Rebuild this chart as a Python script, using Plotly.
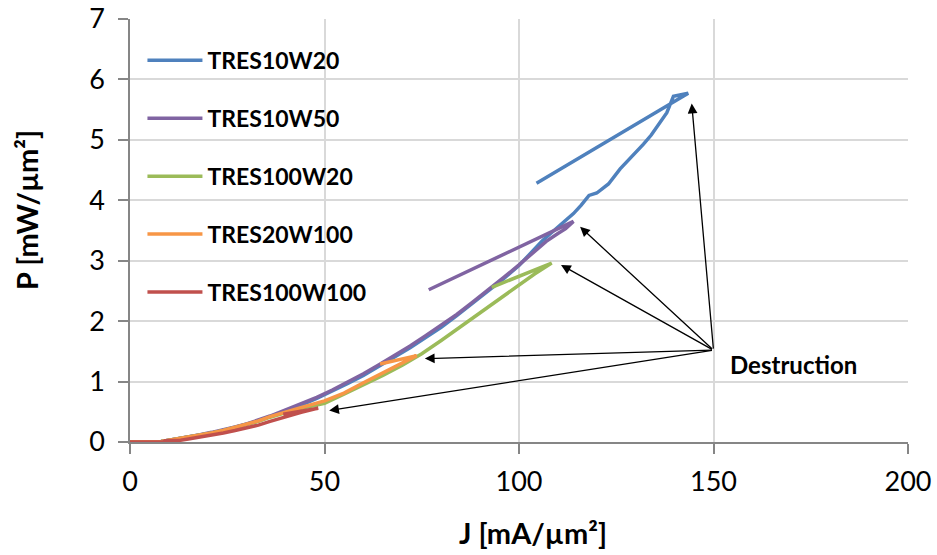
import plotly.graph_objects as go

# ---- data ----
names = ["TRES10W20", "TRES10W50", "TRES100W20", "TRES20W100", "TRES100W100"]
colors = ["#4F81BD", "#8064A2", "#9BBB59", "#F79646", "#C0504D"]

J_tres10w20 = [0, 4, 8, 10, 12, 15, 18, 21, 24, 27, 30, 33, 36, 40, 44, 48, 52, 56, 60, 64, 68, 72, 76, 80,
               84, 88, 92, 96, 100, 103, 106, 109, 112, 114, 116, 118, 120, 123, 126, 129, 132, 134, 136, 138,
               139.7, 143.5, 104.5]
P_tres10w20 = [0, 0.0, 0.01, 0.03, 0.05, 0.08, 0.11, 0.15, 0.19, 0.24, 0.29, 0.35, 0.42, 0.51, 0.61, 0.72, 0.84,
               0.97, 1.10, 1.25, 1.40, 1.56, 1.73, 1.90, 2.09, 2.29, 2.49, 2.70, 2.92, 3.12, 3.33, 3.50, 3.66,
               3.78, 3.92, 4.08, 4.12, 4.27, 4.52, 4.72, 4.93, 5.08, 5.26, 5.45, 5.72, 5.77, 4.28]

J_tres10w50 = [0, 4, 8, 10, 12, 15, 18, 21, 24, 27, 30, 33, 36, 40, 44, 48, 52, 56, 60, 64, 68, 72, 76, 80,
               84, 88, 92, 96, 100, 104, 107, 110, 112, 114, 76.8]
P_tres10w50 = [0, 0.0, 0.01, 0.03, 0.05, 0.08, 0.12, 0.16, 0.20, 0.25, 0.30, 0.36, 0.43, 0.53, 0.63, 0.74, 0.86,
               0.99, 1.13, 1.28, 1.43, 1.59, 1.76, 1.93, 2.11, 2.31, 2.51, 2.72, 2.93, 3.15, 3.32, 3.45, 3.53,
               3.65, 2.52]

J_tres100w20 = [0, 4, 8, 10, 12, 15, 18, 21, 24, 27, 30, 33, 36, 40, 44, 48, 50, 55, 60, 65, 70, 75, 80, 85,
                90, 95, 100, 104, 108.4, 93]
P_tres100w20 = [0, 0.0, 0.01, 0.03, 0.05, 0.08, 0.11, 0.15, 0.19, 0.24, 0.29, 0.34, 0.41, 0.49, 0.56, 0.61,
                0.64, 0.79, 0.94, 1.10, 1.27, 1.46, 1.68, 1.91, 2.14, 2.37, 2.60, 2.78, 2.96, 2.56]

J_tres20w100 = [0, 4, 8, 10, 12, 15, 18, 21, 24, 27, 30, 33, 36, 40, 45, 50, 55, 60, 65, 70, 73.7, 64.3]
P_tres20w100 = [0, 0.0, 0.01, 0.03, 0.05, 0.08, 0.11, 0.15, 0.19, 0.24, 0.29, 0.35, 0.42, 0.50, 0.59, 0.68,
                0.81, 0.98, 1.14, 1.30, 1.43, 1.29]

J_tres100w100 = [0, 4, 8.6, 9, 13, 15, 18, 21, 24, 27, 30, 33, 36, 40, 44, 48.4, 39.4]
P_tres100w100 = [0, 0.0, 0.0, 0.02, 0.03, 0.05, 0.08, 0.11, 0.15, 0.19, 0.23, 0.28, 0.34, 0.42, 0.49, 0.56, 0.46]

series_J = [J_tres10w20, J_tres10w50, J_tres100w20, J_tres20w100, J_tres100w100]
series_P = [P_tres10w20, P_tres10w50, P_tres100w20, P_tres20w100, P_tres100w100]

# destruction arrows: common tail and heads
tail_J, tail_P = 150, 1.52
head_J = [144.4, 115.7, 110.8, 75.8, 51.2]
head_P = [5.60, 3.56, 2.93, 1.38, 0.52]
label_text = "Destruction"
label_J, label_P = 170.5, 1.28

x_title = "J [mA/µm²]"
y_title = "P [mW/µm²]"
x_ticks = [0, 50, 100, 150, 200]
y_ticks = [0, 1, 2, 3, 4, 5, 6, 7]

FONT = "Lato"

fig = go.Figure()
for i, (n, c) in enumerate(zip(names, colors)):
    fig.add_trace(go.Scatter(
        x=series_J[i], y=series_P[i], mode="lines", name=n,
        line=dict(color=c, width=3.5), legendgroup=n,
    ))

for hj, hp in zip(head_J, head_P):
    fig.add_annotation(
        x=hj, y=hp, ax=tail_J, ay=tail_P, xref="x", yref="y", axref="x", ayref="y",
        showarrow=True, arrowhead=2, arrowsize=1.5, arrowwidth=1.3, arrowcolor="#000000",
        standoff=0, text="",
    )

fig.add_annotation(x=label_J, y=label_P, xref="x", yref="y", text="<b>" + label_text + "</b>",
                   showarrow=False, font=dict(family=FONT, size=24, color="#000000"))

# axis titles (placed as in the reference, slightly off-centre)
fig.add_annotation(x=0.518, y=-0.213, xref="paper", yref="paper", xanchor="center", yanchor="middle",
                   text="<b>" + x_title + "</b>", showarrow=False,
                   font=dict(family=FONT, size=29, color="#000000"))
fig.add_annotation(x=-0.1324, y=0.5485, xref="paper", yref="paper", xanchor="center", yanchor="middle",
                   text="<b>" + y_title + "</b>", showarrow=False, textangle=-90,
                   font=dict(family=FONT, size=29, color="#000000"))

fig.update_layout(
    width=937, height=555,
    margin=dict(l=130, r=29, t=19, b=113, autoexpand=False),
    paper_bgcolor="white", plot_bgcolor="white",
    font=dict(family=FONT, color="#000000"),
    showlegend=True,
    legend=dict(
        x=0.016, y=0.953, xanchor="left", yanchor="top",
        font=dict(family=FONT, size=23, color="#000000", weight="bold"),
        bgcolor="rgba(0,0,0,0)", tracegroupgap=25, itemwidth=55,
    ),
)

fig.update_xaxes(
    range=[0, 200], tickvals=x_ticks, ticktext=[str(v) for v in x_ticks],
    showgrid=True, gridcolor="#D9D9D9", gridwidth=1.5,
    showline=True, linecolor="#868686", linewidth=1.5,
    ticks="outside", ticklen=10, tickcolor="#868686", tickwidth=1.5,
    tickfont=dict(family=FONT, size=27, color="#000000"), ticklabelstandoff=5,
    zeroline=False, automargin=False,
)
fig.update_yaxes(
    range=[0, 7], tickvals=y_ticks, ticktext=[str(v) for v in y_ticks],
    showgrid=True, gridcolor="#D9D9D9", gridwidth=1.5,
    showline=True, linecolor="#868686", linewidth=1.5,
    ticks="outside", ticklen=10, tickcolor="#868686", tickwidth=1.5,
    tickfont=dict(family=FONT, size=27, color="#000000"), ticklabelstandoff=8,
    zeroline=False, automargin=False,
)

fig.write_html(
    "out.html",
    config={"displayModeBar": False},
    post_script="document.body.style.margin='0px';document.body.style.overflow='hidden';",
)
